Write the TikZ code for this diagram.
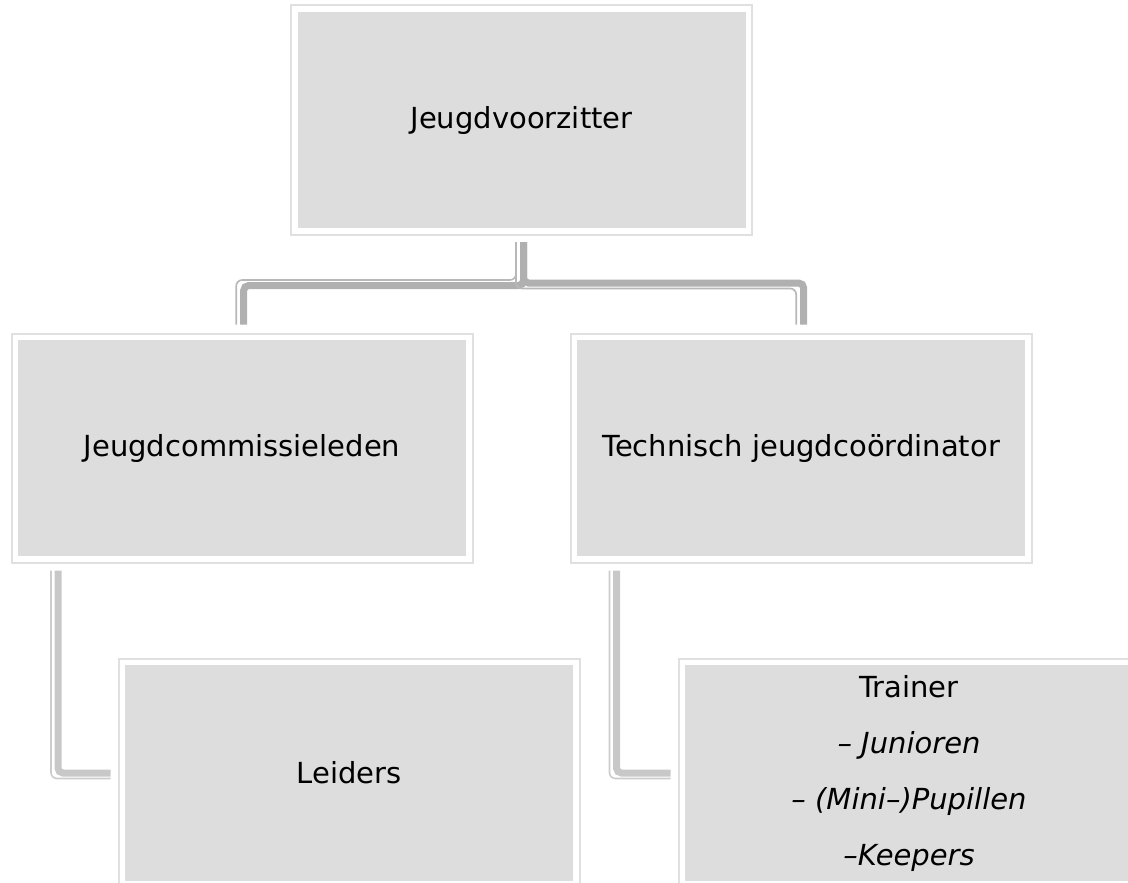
\documentclass[tikz,border=0pt]{standalone}
\usepackage{fontspec}
\setmainfont{DejaVu Sans}
\definecolor{boxfill}{HTML}{DDDDDD}
\definecolor{boxline}{HTML}{E0E0E0}
\definecolor{conA}{HTML}{B0B0B0}
\definecolor{conAthin}{HTML}{B8B8B8}
\definecolor{conB}{HTML}{C8C8C8}
\definecolor{conBthin}{HTML}{CCCCCC}
\tikzset{
  orgbox/.style={rectangle, fill=boxfill, draw=white, line width=3pt,
    minimum width=451pt, minimum height=219pt, inner sep=0pt,
    align=center, font=\fontsize{29}{56}\selectfont},
  frameline/.style={draw=boxline, line width=2pt},
  thickA/.style={draw=conA, line width=7pt, rounded corners=5pt},
  thinA/.style={draw=conAthin, line width=1.6pt, rounded corners=6pt},
  thickB/.style={draw=conB, line width=7pt, rounded corners=5pt},
  thinB/.style={draw=conBthin, line width=1.6pt, rounded corners=6pt}
}
\begin{document}
\begin{tikzpicture}[x=1pt,y=-1pt]
\useasboundingbox (0,0) rectangle (1128,883);
\clip (0,0) rectangle (1128,883);
\fill[white] (0,0) rectangle (1128,883);

% boxes
\node[orgbox] (top) at (521.5,120) {Jeugdvoorzitter};
\node[orgbox] (ml) at (242,448) {Jeugdcommissieleden};
\node[orgbox] (mr) at (801,448) {Technisch jeugdcoördinator};
\node[orgbox] (bl) at (349,773) {Leiders};
\node[orgbox] (br) at (909,773) {Trainer\\\itshape – Junioren\\\itshape – (Mini–)Pupillen\\\itshape –Keepers};

% outer frames
\foreach \n in {top,ml,mr,bl,br}{
  \draw[frameline] ([xshift=-3.5pt,yshift=3.5pt]\n.north west) rectangle ([xshift=3.5pt,yshift=-3.5pt]\n.south east);
}

% top connectors
\coordinate (tA) at ([xshift=2pt,yshift=-11pt]top.south);
\coordinate (lB) at ([xshift=1.7pt,yshift=12.5pt]ml.north);
\coordinate (rB) at ([xshift=2.7pt,yshift=12.5pt]mr.north);
\coordinate (hL) at (0,285.5);
\coordinate (hR) at (0,283);
\coordinate (tA2) at ([xshift=-7.5pt]tA);
\coordinate (lB2) at ([xshift=-7.5pt]lB);
\coordinate (rB2) at ([xshift=-7.5pt]rB);
\coordinate (hL2) at (0,280);
\coordinate (hR2) at (0,288.5);

\draw[thickA] (tA) -- (tA |- hL) -- (hL -| lB) -- (lB);
\draw[thinA] (tA2) -- (tA2 |- hL2) -- (hL2 -| lB2) -- (lB2);
\draw[thickA] (tA) -- (tA |- hR) -- (hR -| rB) -- (rB);
\draw[thinA] (tA2) -- (tA2 |- hR2) -- (hR2 -| rB2) -- (rB2);

% bottom elbows
\coordinate (sL) at ([xshift=43pt,yshift=-11.5pt]ml.south west);
\coordinate (eL) at ([xshift=-11.5pt]bl.west);
\coordinate (sL2) at ([xshift=-7pt]sL);
\coordinate (eL2) at ([yshift=-5.5pt]eL);
\draw[thickB] (sL) |- (eL);
\draw[thinB] (sL2) |- (eL2);

\coordinate (sR) at ([xshift=42.5pt,yshift=-11.5pt]mr.south west);
\coordinate (eR) at ([xshift=-11.5pt]br.west);
\coordinate (sR2) at ([xshift=-7pt]sR);
\coordinate (eR2) at ([yshift=-5.5pt]eR);
\draw[thickB] (sR) |- (eR);
\draw[thinB] (sR2) |- (eR2);
\end{tikzpicture}
\end{document}
